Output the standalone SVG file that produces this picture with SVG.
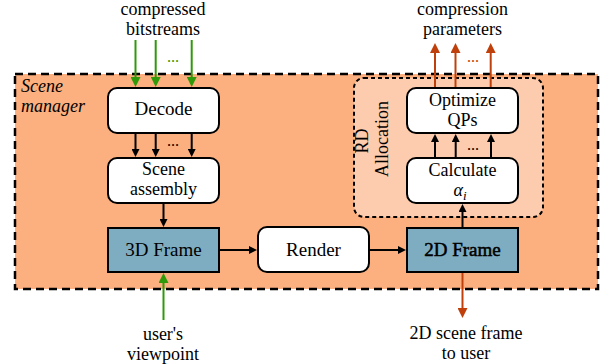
<svg xmlns="http://www.w3.org/2000/svg" width="602" height="364" viewBox="0 0 602 364">
<style>
text{font-family:'Liberation Serif','DejaVu Serif',serif;font-size:19px;fill:#000;text-anchor:middle}
.two{font-size:18px}
.it{font-style:italic}
.st{text-anchor:start}
.dots{font-size:16px}
.box{fill:#fff;stroke:#000;stroke-width:2}
.blue{fill:#7EADC1;stroke:#000;stroke-width:2}
.k{stroke:#000;stroke-width:2;fill:none}
.g{stroke:#2E9A0A;stroke-width:2;fill:none}
.r{stroke:#C0400B;stroke-width:2;fill:none}
</style>
<defs>
<marker id="mk" markerWidth="8" markerHeight="8" refX="5" refY="4" orient="auto" markerUnits="userSpaceOnUse"><path d="M0,0 L8,4 L0,8 z" fill="#000"/></marker>
<marker id="mg" markerWidth="10" markerHeight="10" refX="7" refY="5" orient="auto" markerUnits="userSpaceOnUse"><path d="M0,0 L10,5 L0,10 z" fill="#2E9A0A"/></marker>
<marker id="mr" markerWidth="10" markerHeight="10" refX="7" refY="5" orient="auto" markerUnits="userSpaceOnUse"><path d="M0,0 L10,5 L0,10 z" fill="#C0400B"/></marker>
</defs>
<g id="scene-manager">
<rect x="15" y="74" width="583" height="215" fill="#FCB07F" stroke="#000" stroke-width="2.5" stroke-dasharray="8,5"/>
<text x="21" y="92" class="two it st">Scene</text>
<text x="21" y="112" class="two it st">manager</text>
</g>
<g id="rd-allocation">
<rect x="354" y="78" width="189" height="139" rx="10" fill="#FDCBAD" stroke="#000" stroke-width="2" stroke-dasharray="4,3"/>
<text class="two" transform="translate(368,141) rotate(-90)">RD</text>
<text class="two" transform="translate(388,139) rotate(-90)">Allocation</text>
</g>
<g id="decode"><rect class="box" x="108" y="88" width="111" height="45" rx="9"/><text x="163.5" y="115">Decode</text></g>
<g id="scene-assembly"><rect class="box" x="108" y="158" width="111" height="45" rx="9"/><text class="two" x="163.5" y="175">Scene</text><text class="two" x="163.5" y="195">assembly</text></g>
<g id="frame3d"><rect class="blue" x="108" y="228" width="111" height="44"/><text x="163.5" y="256">3D Frame</text></g>
<g id="render"><rect class="box" x="258" y="227" width="111" height="45" rx="9"/><text x="313.5" y="256">Render</text></g>
<g id="frame2d"><rect class="blue" x="407" y="228" width="111" height="44"/><text x="462.5" y="256" style="stroke:#000;stroke-width:0.5">2D Frame</text></g>
<g id="calculate"><rect class="box" x="407" y="158" width="111" height="45" rx="9"/><text class="two" x="462.5" y="176">Calculate</text><text x="460" y="196" class="two it">α<tspan dy="4" font-size="13">i</tspan></text></g>
<g id="optimize"><rect class="box" x="407" y="88" width="111" height="45" rx="9"/><text class="two" x="462.5" y="106">Optimize</text><text class="two" x="462.5" y="126">QPs</text></g>
<g id="labels">
<text class="two" x="163" y="15">compressed</text>
<text class="two" x="163" y="35">bitstreams</text>
<text class="two" x="462.5" y="15">compression</text>
<text class="two" x="462.5" y="35">parameters</text>
<text class="two" x="163" y="340">user's</text>
<text class="two" x="163" y="360">viewpoint</text>
<text class="two" x="466" y="339">2D scene frame</text>
<text class="two" x="466" y="359">to user</text>
</g>
<g id="connectors">
<line class="g" x1="135.5" y1="40" x2="135.5" y2="84" marker-end="url(#mg)"/>
<line class="g" x1="155.7" y1="40" x2="155.7" y2="84" marker-end="url(#mg)"/>
<line class="g" x1="191.7" y1="40" x2="191.7" y2="84" marker-end="url(#mg)"/>
<text x="173" y="62" class="dots" style="fill:#2E9A0A">...</text>
<line class="k" x1="135.5" y1="134" x2="135.5" y2="154" marker-end="url(#mk)"/>
<line class="k" x1="155.7" y1="134" x2="155.7" y2="154" marker-end="url(#mk)"/>
<line class="k" x1="191.7" y1="134" x2="191.7" y2="154" marker-end="url(#mk)"/>
<text x="173" y="146" class="dots">...</text>
<line class="k" x1="163.5" y1="204" x2="163.5" y2="224" marker-end="url(#mk)"/>
<line class="k" x1="220" y1="250" x2="254" y2="250" marker-end="url(#mk)"/>
<line class="k" x1="370" y1="250" x2="403" y2="250" marker-end="url(#mk)"/>
<line class="k" x1="462.5" y1="227" x2="462.5" y2="207" marker-end="url(#mk)"/>
<line class="k" x1="435" y1="157" x2="435" y2="137" marker-end="url(#mk)"/>
<line class="k" x1="455.7" y1="157" x2="455.7" y2="137" marker-end="url(#mk)"/>
<line class="k" x1="491" y1="157" x2="491" y2="137" marker-end="url(#mk)"/>
<text x="473" y="150" class="dots">...</text>
<line class="r" x1="435" y1="87" x2="435" y2="46" marker-end="url(#mr)"/>
<line class="r" x1="455.5" y1="87" x2="455.5" y2="46" marker-end="url(#mr)"/>
<line class="r" x1="490.7" y1="87" x2="490.7" y2="46" marker-end="url(#mr)"/>
<text x="473" y="62" class="dots" style="fill:#C0400B">...</text>
<line class="r" x1="462.5" y1="273" x2="462.5" y2="315" marker-end="url(#mr)"/>
<line class="g" x1="163.5" y1="320" x2="163.5" y2="276" marker-end="url(#mg)"/>
</g>
</svg>
